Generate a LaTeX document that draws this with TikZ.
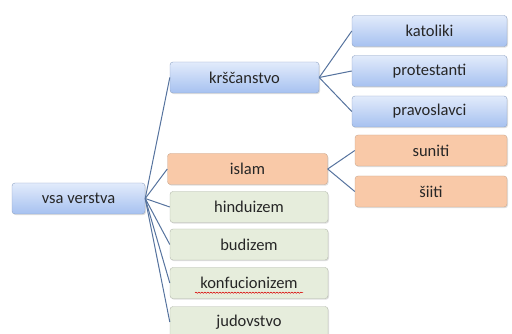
\documentclass[tikz,border=0pt]{standalone}
\usepackage{fontspec}
\setmainfont{Carlito}
\usetikzlibrary{shadows,decorations.pathmorphing}

\definecolor{blueTop}{HTML}{E2EBFB}
\definecolor{blueBot}{HTML}{A6C1F0}
\definecolor{blueLine}{HTML}{8FA3C4}
\definecolor{peach}{HTML}{F9C9A8}
\definecolor{peachLine}{HTML}{C9A890}
\definecolor{sage}{HTML}{E6EDDC}
\definecolor{sageLine}{HTML}{B3B8AC}
\definecolor{link}{HTML}{56739E}

\begin{document}
\begin{tikzpicture}[x=1pt,y=-1pt,
  box/.style={rounded corners=3pt,minimum height=31pt,inner sep=0pt,
    font=\fontsize{16.5}{19}\selectfont,text=black!85,
    drop shadow={shadow xshift=1pt,shadow yshift=-1.2pt,opacity=0.25}},
  bluebox/.style={box,draw=blueLine,top color=blueTop,bottom color=blueBot},
  peachbox/.style={box,draw=peachLine,fill=peach},
  sagebox/.style={box,draw=sageLine,fill=sage},
  link/.style={draw=link,line width=1pt}]
\useasboundingbox (0,0) rectangle (512,334);

% root
\node[bluebox,minimum width=133pt] (vsa) at (78.5,198.5) {vsa verstva};

% second level
\node[bluebox,minimum width=149pt] (krs) at (244.5,77.5) {krščanstvo};
\node[peachbox,minimum width=160pt] (isl) at (247.5,169) {islam};
\node[sagebox,minimum width=158pt] (hin) at (249,207) {hinduizem};
\node[sagebox,minimum width=158pt] (bud) at (249,244.5) {budizem};
\node[sagebox,minimum width=158pt] (kon) at (249,283) {konfucionizem};
\node[sagebox,minimum width=158pt] (jud) at (249,322) {judovstvo};

% third level
\node[bluebox,minimum width=155pt] (kat) at (429.5,31) {katoliki};
\node[bluebox,minimum width=155pt] (pro) at (429.5,71) {protestanti};
\node[bluebox,minimum width=155pt] (pra) at (429.5,111.5) {pravoslavci};
\node[peachbox,minimum width=152pt] (sun) at (431,150.5) {suniti};
\node[peachbox,minimum width=152pt] (sii) at (431,191.5) {šiiti};

% spelling mark
\draw[red!85!black,line width=0.5pt,decorate,
  decoration={snake,amplitude=0.6pt,segment length=3pt}]
  ([xshift=-54pt,yshift=6pt]kon.south) -- ([xshift=54pt,yshift=6pt]kon.south);

% links
\foreach \c in {krs,isl,hin,bud,kon,jud}
  \draw[link] (vsa.east) -- (\c.west);
\foreach \c in {kat,pro,pra}
  \draw[link] (krs.east) -- (\c.west);
\foreach \c in {sun,sii}
  \draw[link] (isl.east) -- (\c.west);
\end{tikzpicture}
\end{document}
